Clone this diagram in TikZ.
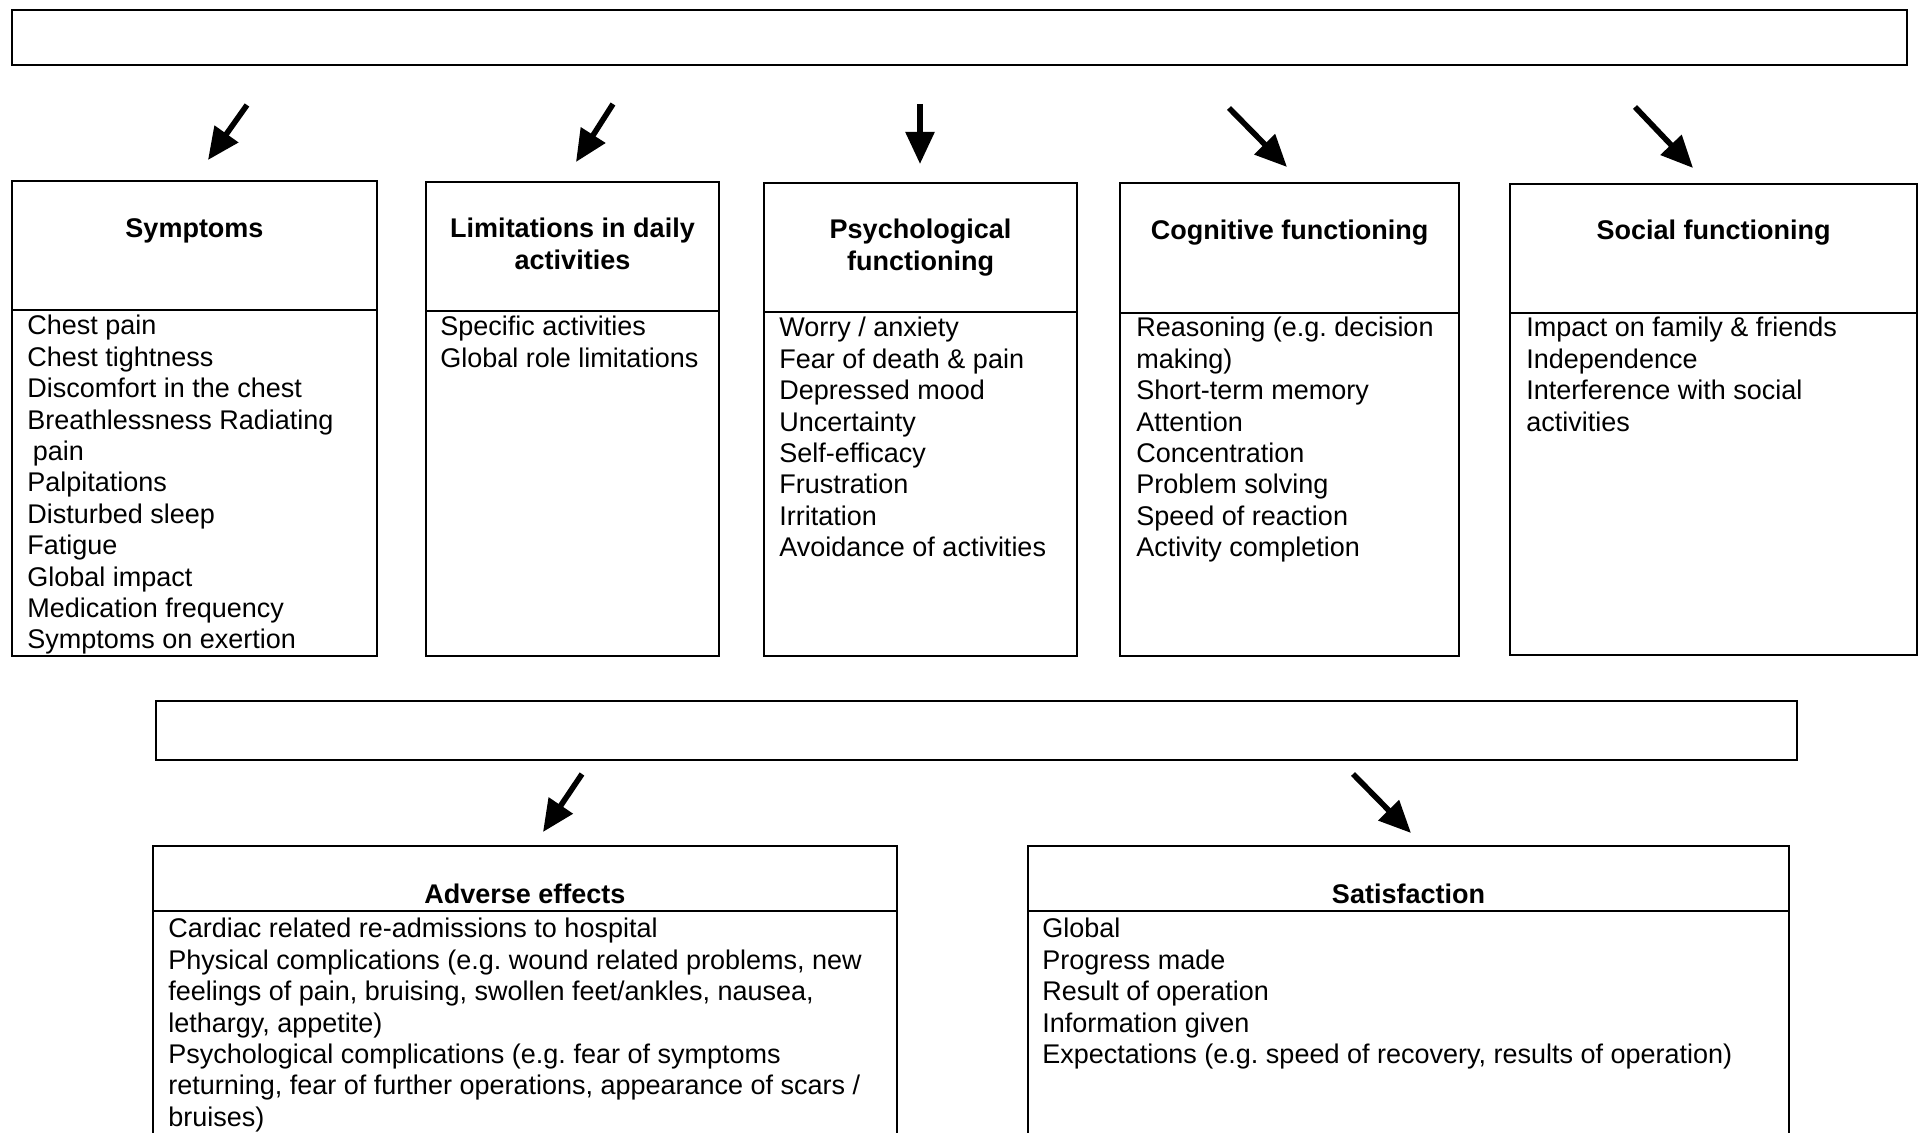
\documentclass[tikz,border=0pt]{standalone}
\usepackage{fontspec}
\setmainfont{Liberation Sans}
\usetikzlibrary{arrows.meta}

\tikzset{
  box/.style={draw=black, line width=1.2pt},
  headtext/.style={font=\bfseries\fontsize{13.5}{15.7}\selectfont, align=center, anchor=north, inner sep=0pt},
  listtext/.style={font=\fontsize{13.5}{15.7}\selectfont, align=left, anchor=north west, inner sep=0pt},
  bigarrow/.style={line width=2.8pt, -{Triangle[length=16pt,width=14pt]}}
}

\begin{document}
\begin{tikzpicture}[x=0.5pt, y=-0.5pt]
  % Frame to fix the page
  \useasboundingbox (0,0) rectangle (1923,1133);
  \clip (0,0) rectangle (1923,1133);

  % Top bar
  \draw[box] (12,10) rectangle (1907,65);
  \coordinate (a1s) at (247,105);  \coordinate (a1e) at (208,160);
  \coordinate (a2s) at (613,104);  \coordinate (a2e) at (576,162);
  \coordinate (a3s) at (920,104);  \coordinate (a3e) at (920,164);
  \coordinate (a4s) at (1229,108); \coordinate (a4e) at (1287,167);
  \coordinate (a5s) at (1635,107); \coordinate (a5e) at (1693,168);
  \draw[bigarrow] (a1s) -- (a1e);
  \draw[bigarrow] (a2s) -- (a2e);
  \draw[bigarrow] (a3s) -- (a3e);
  \draw[bigarrow] (a4s) -- (a4e);
  \draw[bigarrow] (a5s) -- (a5e);

  % Symptoms
  \draw[box] (12,181) rectangle (377,656);
  \draw[box] (12,310) -- (377,310);
  \node[headtext] (symhead) at (194.5,218) {Symptoms};
  \node[listtext] (symlist) at (27,315) {Chest pain\\Chest tightness\\Discomfort in the chest\\Breathlessness Radiating\\\hspace{0.2em}pain\\Palpitations\\Disturbed sleep\\Fatigue\\Global impact\\Medication frequency\\Symptoms on exertion};

  % Limitations in daily activities
  \draw[box] (426,182) rectangle (719,656);
  \draw[box] (426,311) -- (719,311);
  \node[headtext] (limhead) at (572.5,218) {Limitations in daily\\activities};
  \node[listtext] (limlist) at (440,316) {Specific activities\\Global role limitations};

  % Psychological functioning
  \draw[box] (764,183) rectangle (1077,656);
  \draw[box] (764,312) -- (1077,312);
  \node[headtext] (psyhead) at (920.5,219) {Psychological\\functioning};
  \node[listtext] (psylist) at (779,317) {Worry / anxiety\\Fear of death \& pain\\Depressed mood\\Uncertainty\\Self-efficacy\\Frustration\\Irritation\\Avoidance of activities};

  % Cognitive functioning
  \draw[box] (1120,183) rectangle (1459,656);
  \draw[box] (1120,313) -- (1459,313);
  \node[headtext] (coghead) at (1289.5,220) {Cognitive functioning};
  \node[listtext] (coglist) at (1136,317) {Reasoning (e.g.\ decision\\making)\\Short-term memory\\Attention\\Concentration\\Problem solving\\Speed of reaction\\Activity completion};

  % Social functioning
  \draw[box] (1510,184) rectangle (1917,655);
  \draw[box] (1510,313) -- (1917,313);
  \node[headtext] (sochead) at (1713.5,220) {Social functioning};
  \node[listtext] (soclist) at (1526,317) {Impact on family \& friends\\Independence\\Interference with social\\activities};

  % Second bar
  \draw[box] (156,701) rectangle (1797,760);
  \coordinate (b1s) at (582,774);  \coordinate (b1e) at (543,832);
  \coordinate (b2s) at (1353,774); \coordinate (b2e) at (1411,833);
  \draw[bigarrow] (b1s) -- (b1e);
  \draw[bigarrow] (b2s) -- (b2e);

  % Adverse effects
  \draw[box] (153,1150) -- (153,846) -- (897,846) -- (897,1150);
  \draw[box] (153,911) -- (897,911);
  \node[headtext] (advhead) at (525,884) {Adverse effects};
  \node[listtext] (advlist) at (168,918) {Cardiac related re-admissions to hospital\\Physical complications (e.g.\ wound related problems, new\\feelings of pain, bruising, swollen feet/ankles, nausea,\\lethargy, appetite)\\Psychological complications (e.g.\ fear of symptoms\\returning, fear of further operations, appearance of scars /\\bruises)};

  % Satisfaction
  \draw[box] (1028,1150) -- (1028,846) -- (1789,846) -- (1789,1150);
  \draw[box] (1028,911) -- (1789,911);
  \node[headtext] (sathead) at (1408.5,884) {Satisfaction};
  \node[listtext] (satlist) at (1042,918) {Global\\Progress made\\Result of operation\\Information given\\Expectations (e.g.\ speed of recovery, results of operation)};
\end{tikzpicture}
\end{document}
